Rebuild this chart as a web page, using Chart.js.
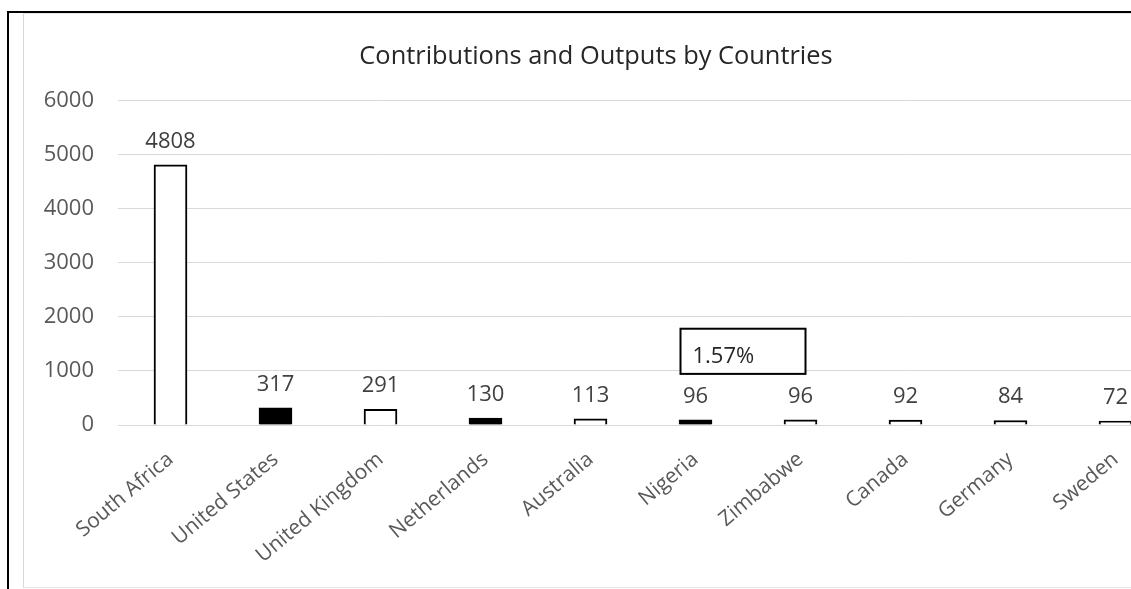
<!DOCTYPE html>
<html>
<head>
<meta charset="utf-8">
<script src="https://cdn.jsdelivr.net/npm/chart.js@4.4.0/dist/chart.umd.min.js"></script>
<style>
  html, body { margin: 0; padding: 0; background: #fff; overflow: hidden; width: 1131px; height: 589px; }
  #frame { position: absolute; left: 7px; top: 11px; width: 1200px; height: 600px;
           border-top: 2px solid #000; border-left: 2px solid #000; }
  #inner { position: absolute; left: 14px; top: 0px; width: 1170px; height: 573px;
           border-left: 1px solid #d9d9d9; border-top: 1px solid #e6e6e6; border-bottom: 1px solid #e6e6e6; }
  #wrap { position: absolute; left: 0; top: 0; width: 1152px; height: 573px; }
</style>
</head>
<body>
<div id="frame"><div id="inner"><div id="wrap"><canvas id="myChart"></canvas></div></div></div>
<script>
const countries = ['South Africa', 'United States', 'United Kingdom', 'Netherlands', 'Australia',
                   'Nigeria', 'Zimbabwe', 'Canada', 'Germany', 'Sweden'];
const outputs = [4808, 317, 291, 130, 113, 96, 96, 92, 84, 72];
const fills = ['#ffffff', '#000000', '#ffffff', '#000000', '#ffffff',
               '#000000', '#ffffff', '#ffffff', '#ffffff', '#ffffff'];
const yTicks = [0, 1000, 2000, 3000, 4000, 5000, 6000];
const noteText = '1.57%';

const valueLabels = {
  id: 'valueLabels',
  afterDatasetsDraw(chart) {
    const ctx = chart.ctx;
    const meta = chart.getDatasetMeta(0);
    ctx.save();
    ctx.font = '22px "Open Sans"';
    ctx.fillStyle = '#404040';
    ctx.textAlign = 'center';
    ctx.textBaseline = 'alphabetic';
    meta.data.forEach((bar, i) => {
      ctx.fillText(outputs[i], bar.x, bar.y - 17);
    });
    // note box near Nigeria
    const x = chart.scales.x, y = chart.scales.y;
    const cx = x.getPixelForValue(5);
    const left = cx - 15, right = cx + 110;
    const top = y.getPixelForValue(1780), bottom = y.getPixelForValue(945);
    ctx.fillStyle = '#fff';
    ctx.fillRect(left, top, right - left, bottom - top);
    ctx.strokeStyle = '#000';
    ctx.lineWidth = 2;
    ctx.strokeRect(left, top, right - left, bottom - top);
    ctx.fillStyle = '#262626';
    ctx.textAlign = 'left';
    ctx.fillText(noteText, left + 12, bottom - 11);
    ctx.restore();
  }
};

const graph = document.getElementById('myChart');
const myChart = new Chart(graph, {
  type: 'bar',
  data: {
    labels: countries,
    datasets: [{
      label: 'Outputs',
      data: outputs,
      backgroundColor: fills,
      borderColor: '#000',
      borderWidth: 2,
      barThickness: 33
    }]
  },
  options: {
    responsive: true,
    maintainAspectRatio: false,
    animation: false,
    layout: { padding: { top: 28, right: 8, left: 0, bottom: 0 } },
    plugins: {
      legend: { display: false },
      tooltip: { enabled: false },
      title: {
        display: true,
        text: 'Contributions and Outputs by Countries',
        color: '#262626',
        font: { family: '"Open Sans"', size: 25.4, weight: 'normal' },
        padding: { top: 0, bottom: 28 }
      }
    },
    scales: {
      y: {
        min: 0, max: 6000,
        afterBuildTicks(scale) { scale.ticks = yTicks.map(v => ({ value: v })); },
        afterFit(scale) { scale.width = 94; },
        border: { display: false },
        grid: { color: '#d9d9d9', lineWidth: 1, drawTicks: false },
        ticks: { color: '#595959', padding: 24, font: { family: '"Open Sans"', size: 22 },
                 callback: v => String(v) }
      },
      x: {
        afterFit(scale) { scale.height = 162; },
        border: { display: false },
        grid: { display: false },
        ticks: { color: '#595959', minRotation: 40, maxRotation: 40, padding: 14,
                 font: { family: '"Open Sans"', size: 21 } }
      }
    }
  },
  plugins: [valueLabels]
});
</script>
</body>
</html>
